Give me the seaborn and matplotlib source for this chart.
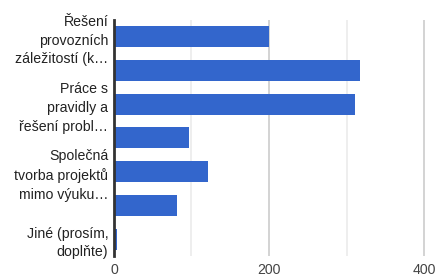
import matplotlib
matplotlib.use("Agg")
import matplotlib.pyplot as plt
import seaborn as sns
import pandas as pd

categories = ["c1", "c2", "c3", "c4", "c5", "c6", "c7"]
values = [200, 317, 311, 97, 122, 82, 4]
tick_labels = [
    "Řešení\nprovozních\nzáležitostí (k…",
    "",
    "Práce s\npravidly a\nřešení probl…",
    "",
    "Společná\ntvorba projektů\nmimo výuku…",
    "",
    "Jiné (prosím,\ndoplňte)",
]
x_ticks = [0, 200, 400]
minor_ticks = [100, 300]

sns.set_style("white")
plt.rcParams['font.family'] = ['Liberation Sans', 'DejaVu Sans']

df = pd.DataFrame({"cat": categories, "val": values})

fig = plt.figure(figsize=(4.38, 2.77), dpi=100)
ax = fig.add_axes([0.260, 0.076, 0.710, 0.852])

for t in minor_ticks:
    ax.axvline(t, color="#ebebeb", lw=1.2, zorder=0)
for t in x_ticks[1:]:
    ax.axvline(t, color="#cccccc", lw=1.2, zorder=0)

sns.barplot(data=df, x="val", y="cat", orient="h", color="#3366cc",
            saturation=1, width=0.62, ax=ax, zorder=3, linewidth=0)

ax.set_xlim(0, 401)
ax.set_ylim(6.5, -0.5)
ax.set_xticks(x_ticks)
ax.set_xticklabels([str(t) for t in x_ticks], color="#444444", fontsize=10.2)
ax.set_yticks(range(len(categories)))
ax.set_yticklabels(tick_labels, color="#222222", fontsize=10.2,
                   multialignment="right", linespacing=1.42)
ax.set_xlabel("")
ax.set_ylabel("")
ax.tick_params(axis="both", length=0, pad=4)
ax.tick_params(axis="x", pad=5)

for s in ["top", "right", "bottom"]:
    ax.spines[s].set_visible(False)
ax.spines["left"].set_color("#333333")
ax.spines["left"].set_linewidth(2)
ax.spines["left"].set_zorder(7)

fig.savefig("out.png", dpi=100)
